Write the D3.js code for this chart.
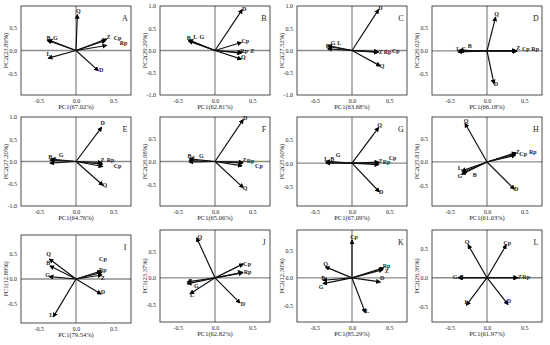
<!DOCTYPE html>
<html><head><meta charset="utf-8">
<script src="https://cdn.jsdelivr.net/npm/d3@7"></script>
<style>body{margin:0;background:#fff}svg{display:block}</style></head>
<body><svg id="c" width="550" height="345"></svg>
<script>
// ---- titles and ticks ----
const panelIds = ["A","B","C","D","E","F","G","H","I","J","K","L"];
const pc1Titles = ["PC1(67.02%)","PC1(62.81%)","PC1(63.68%)","PC1(66.18%)","PC1(64.76%)","PC1(65.06%)","PC1(67.09%)","PC1(61.03%)","PC1(79.54%)","PC1(62.82%)","PC1(85.29%)","PC1(61.97%)"];
const pc2Titles = ["PC2(23.89%)","PC2(29.29%)","PC2(27.52%)","PC2(26.02%)","PC2(27.20%)","PC2(26.98%)","PC2(25.60%)","PC2(25.81%)","PC1(12.89%)","PC1(23.37%)","PC2(12.30%)","PC2(26.36%)"];
const xTicks = [-0.5, 0, 0.5];
const yTicksSmall = [-0.5, 0, 0.5];
const yTicksLarge = [-1, -0.5, 0, 0.5, 1];
const yMin = [-0.95,-1,-1,-0.96,-1,-0.95,-0.93,-0.95,-0.88,-0.83,-0.8,-0.77];
const yMax = [0.95,1,1,0.98,1,0.95,1.0,0.97,0.88,0.9,0.87,0.83];

// ---- loadings per panel ----
const varsA = ["Q","B","G","Z","Cp","Rp","L","D"];
const pc1A  = [0.018,-0.384,-0.371,0.411,0.397,0.411,-0.371,0.299];
const pc2A  = [0.764,0.214,0.229,0.243,0.214,0.107,-0.164,-0.429];

const varsB = ["D","B","L","G","Cp","Rp","Z","Q"];
const pc1B  = [0.366,-0.353,-0.348,-0.353,0.353,0.353,0.366,0.353];
const pc2B  = [0.917,0.226,0.233,0.211,0.180,-0.060,-0.045,-0.195];

const varsC = ["D","B","G","L","Z","Rp","Cp","Q"];
const pc1C  = [0.357,-0.326,-0.321,-0.321,0.348,0.357,0.348,0.379];
const pc2C  = [0.917,0.038,0.113,0.090,-0.045,-0.030,-0.023,-0.346];

const varsD = ["Q","D","L","G","B","Z","Cp","Rp"];
const pc1D  = [0.116,0.094,-0.388,-0.379,-0.366,0.393,0.402,0.393];
const pc2D  = [0.736,-0.714,-0.021,0.014,0.0,0.0,-0.007,0.007];

const varsE = ["D","B","L","G","Z","Rp","Cp","Q"];
const pc1E  = [0.344,-0.348,-0.348,-0.335,0.344,0.357,0.357,0.362];
const pc2E  = [0.767,0.030,-0.038,0.053,-0.023,-0.060,-0.113,-0.534];

const varsF = ["D","B","L","G","Z","Rp","Cp","Q"];
const pc1F  = [0.379,-0.344,-0.344,-0.344,0.371,0.371,0.362,0.379];
const pc2F  = [0.893,0.057,0.021,-0.014,-0.014,-0.036,-0.093,-0.557];

const varsG = ["Q","L","B","G","Z","Rp","Cp","D"];
const pc1G  = [0.357,-0.348,-0.348,-0.348,0.357,0.357,0.357,0.366];
const pc2G  = [0.771,0.021,0.0,0.036,0.021,-0.036,0.0,-0.621];

const varsH = ["Q","Z","Cp","Rp","L","G","B","D"];
const pc1H  = [-0.295,0.388,0.379,0.388,-0.339,-0.339,-0.326,0.366];
const pc2H  = [0.829,0.200,0.143,0.179,-0.193,-0.264,-0.229,-0.586];

const varsI = ["Q","B","G","Cp","Rp","Z","D","L"];
const pc1I  = [-0.357,-0.348,-0.357,0.335,0.348,0.348,0.335,-0.304];
const pc2I  = [0.400,0.260,0.047,0.160,0.133,0.080,-0.300,-0.753];

const varsJ = ["Q","Cp","Z","Rp","B","G","L","D"];
const pc1J  = [-0.246,0.379,0.371,0.371,-0.371,-0.371,-0.335,0.335];
const pc2J  = [0.750,0.263,0.094,0.106,-0.075,-0.113,-0.300,-0.469];

const varsK = ["Cp","Q","Rp","Z","D","B","G","L"];
const pc1K  = [0.0,-0.357,0.424,0.415,0.379,-0.388,-0.388,0.179];
const pc2K  = [0.685,0.200,0.182,0.152,-0.073,-0.042,-0.103,-0.630];

const varsL = ["Q","Cp","Z","Rp","G","B","L","D"];
const pc1L  = [-0.254,0.259,0.415,0.406,-0.388,-0.379,-0.277,0.281];
const pc2L  = [0.570,0.570,0.0,0.0,0.0,0.0,-0.477,-0.465];

// ---- layout (label nudges in px, frame placement) ----
const labelNudge = {
  A:[[1,-4],[1,-3],[7,-2],[2,-2],[12,-3],[17,-3],[0,-4],[3,-1]],
  B:[[2,-1],[0,-3],[6,-3],[13,-4],[4,-2],[3,-2],[10,-2],[2,-2]],
  C:[[2,-2],[0,-3],[5,-3],[11,-4],[3,-1],[9,0],[18,-1],[2,0]],
  D:[[1,-3],[2,0],[0,-3],[5,-1],[10,-5],[2,-3],[9,-2],[19,-2]],
  E:[[1,-4],[0,-3],[6,-4],[10,-4],[1,-3],[8,-4],[15,-1],[2,0]],
  F:[[2,-2],[0,-3],[5,-3],[12,-6],[2,-2],[8,-2],[17,0],[2,0]],
  G:[[1,-3],[0,-3],[6,-4],[12,-7],[2,-1],[8,-3],[14,-5],[2,0]],
  H:[[1,-3],[2,-1],[8,-1],[17,-2],[-2,-3],[-2,2],[12,2],[2,0]],
  I:[[-1,-5],[-2,-3],[-2,-2],[2,-12],[1,-2],[1,3],[2,-2],[-2,-2]],
  J:[[3,-1],[4,0],[-4,-1],[5,0],[3,-1],[9,2],[2,1],[3,1]],
  K:[[2,-3],[0,-3],[3,-2],[4,1],[2,-4],[0,-2],[-2,3],[2,-2]],
  L:[[-1,-3],[1,-2],[2,-1],[9,-1],[-3,-1],[3,-1],[0,-3],[1,-4]]
};
const colLeft = [21,160,297,432];
const rowTop = [6,117,230];
const rowH = [89,89,92];
const frameW = 110;

const dataSets = {A:[varsA,pc1A,pc2A],B:[varsB,pc1B,pc2B],C:[varsC,pc1C,pc2C],D:[varsD,pc1D,pc2D],
  E:[varsE,pc1E,pc2E],F:[varsF,pc1F,pc2F],G:[varsG,pc1G,pc2G],H:[varsH,pc1H,pc2H],
  I:[varsI,pc1I,pc2I],J:[varsJ,pc1J,pc2J],K:[varsK,pc1K,pc2K],L:[varsL,pc1L,pc2L]};

const svg = d3.select("#c");
const FONT = "'Liberation Serif','Times New Roman',serif";
const defs = svg.append("defs");
defs.append("marker").attr("id","ah").attr("viewBox","0 0 10 10")
  .attr("refX",8).attr("refY",5).attr("markerWidth",5).attr("markerHeight",5)
  .attr("markerUnits","userSpaceOnUse").attr("orient","auto")
  .append("path").attr("d","M0,0 L10,5 L0,10 z").attr("fill","#000");

panelIds.forEach((id,i)=>{
  const col = i%4, row = Math.floor(i/4);
  let left = colLeft[col], top = rowTop[row], h = rowH[row];
  if (id==="I"){ top = 235; h = 88; }
  const [vars,p1,p2] = dataSets[id];
  const x = d3.scaleLinear().domain([-0.74,0.74]).range([0,frameW]);
  const y = d3.scaleLinear().domain([yMin[i],yMax[i]]).range([h,0]);
  const g = svg.append("g").attr("transform",`translate(${left},${top})`);

  // zero lines
  g.append("line").attr("x1",x(0)).attr("x2",x(0)).attr("y1",0).attr("y2",h)
    .attr("stroke","#8c8c8c").attr("stroke-width",1.3);
  g.append("line").attr("x1",0).attr("x2",frameW).attr("y1",y(0)).attr("y2",y(0))
    .attr("stroke","#8c8c8c").attr("stroke-width",1.3);

  // axes
  const fmt = d => d.toFixed(1);
  const xa = g.append("g").attr("transform",`translate(0,${h})`)
    .call(d3.axisBottom(x).tickValues(xTicks).tickFormat(fmt).tickSize(0).tickPadding(4));
  const yt = (id==="B"||id==="C"||id==="E") ? yTicksLarge : yTicksSmall;
  const ya = g.append("g").call(d3.axisLeft(y).tickValues(yt).tickFormat(fmt).tickSize(0).tickPadding(4));
  [xa,ya].forEach(a=>{
    a.select(".domain").remove();
    a.selectAll("text").attr("font-family",FONT).attr("font-size",6).attr("fill","#222");
  });

  // frame
  g.append("rect").attr("width",frameW).attr("height",h).attr("fill","none")
    .attr("stroke","#222").attr("stroke-width",0.8);

  // titles
  g.append("text").attr("x",frameW/2).attr("y",h+14).attr("text-anchor","middle")
    .attr("font-family",FONT).attr("font-size",6.5).attr("fill","#222").text(pc1Titles[i]);
  g.append("text").attr("transform",`translate(-13,${h/2}) rotate(-90)`).attr("text-anchor","middle")
    .attr("font-family",FONT).attr("font-size",6.5).attr("fill","#222").text(pc2Titles[i]);
  g.append("text").attr("x",frameW-6).attr("y",15).attr("text-anchor","middle")
    .attr("font-family",FONT).attr("font-size",8).attr("fill","#222").text(id);

  // vectors
  const pts = vars.map((v,k)=>({v, a:p1[k], b:p2[k], n:labelNudge[id][k]}));
  g.selectAll("line.vec").data(pts).join("line").attr("class","vec")
    .attr("x1",x(0)).attr("y1",y(0)).attr("x2",d=>x(d.a)).attr("y2",d=>y(d.b))
    .attr("stroke","#111").attr("stroke-width",1.2).attr("marker-end","url(#ah)");
  g.selectAll("text.lab").data(pts).join("text").attr("class","lab")
    .attr("x",d=>x(d.a)+d.n[0]).attr("y",d=>y(d.b)+d.n[1]).attr("dy","0.35em")
    .attr("text-anchor","middle").attr("font-family",FONT).attr("font-size",6)
    .attr("font-weight","bold").attr("fill","#222").text(d=>d.v);
});
</script></body></html>
